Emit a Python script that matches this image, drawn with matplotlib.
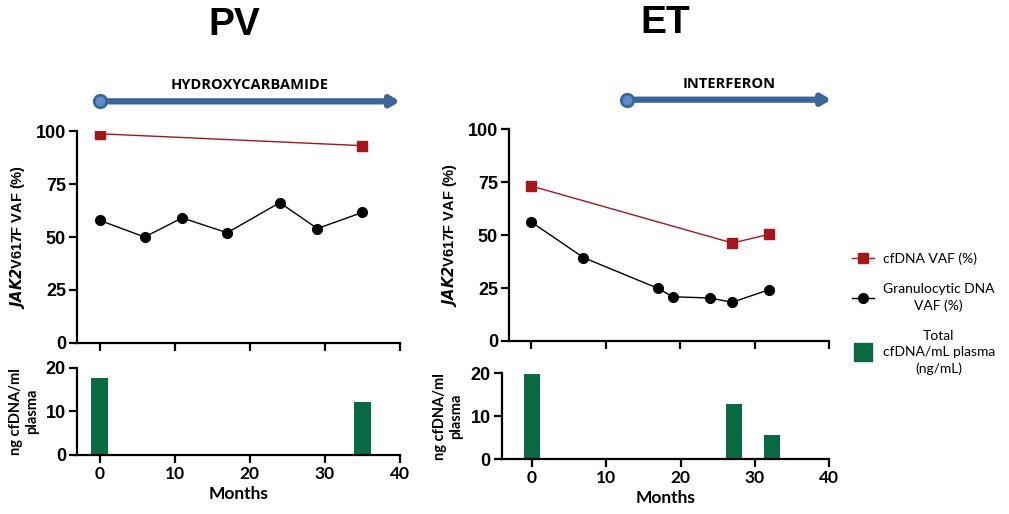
import matplotlib
matplotlib.use('Agg')
import matplotlib.pyplot as plt
from matplotlib.lines import Line2D

# PV patient
pv_gran_months = [0, 6, 11, 17, 24, 29, 35]
pv_gran_vaf = [57.9, 50.0, 59.0, 52.0, 66.2, 54.0, 61.6]
pv_cf_months = [0, 35]
pv_cf_vaf = [98.7, 93.1]
pv_bar_months = [0, 35]
pv_bar_conc = [17.6, 12.1]

# ET patient
et_gran_months = [0, 7, 17, 19, 24, 27, 32]
et_gran_vaf = [56.2, 39.4, 24.9, 20.9, 20.3, 18.3, 24.3]
et_cf_months = [0, 27, 32]
et_cf_vaf = [73.2, 46.3, 50.4]
et_bar_months = [0, 27.2, 32.3]
et_bar_conc = [19.8, 12.8, 5.5]

# treatment arrows (name, start month, end month)
pv_treat = ('HYDROXYCARBAMIDE', 0, 40)
et_treat = ('INTERFERON', 12.8, 40.3)

red = '#a3171a'
green = '#0a6a43'
blue = '#3b6698'
arial = ['Liberation Sans', 'DejaVu Sans']
calib = ['Lato', 'DejaVu Sans']

fig = plt.figure(figsize=(10.09, 5.14), dpi=100)


def style_axis(ax, ylim, yticks):
    for s in ['top', 'right']:
        ax.spines[s].set_visible(False)
    for s in ['left', 'bottom']:
        ax.spines[s].set_linewidth(1.6)
    ax.tick_params(width=1.6, length=6, direction='out', pad=2)
    ax.set_ylim(*ylim)
    ax.set_yticks(yticks)
    for lab in ax.get_yticklabels():
        lab.set_fontfamily(arial)
        lab.set_fontweight('bold')
        lab.set_fontsize(13)


def panel(rect_top, rect_bot, xmin_bot, title, treat, gm, gv, cm, cv, bm, bc):
    ax = fig.add_axes(rect_top)
    ax.plot(cm, cv, color=red, lw=1, marker='s', ms=7, zorder=3)
    ax.plot(gm, gv, color='black', lw=1, marker='o', ms=7, zorder=3)
    ax.set_xlim(-3, 40)
    ax.set_xticks([0, 10, 20, 30, 40])
    ax.set_xticklabels([])
    style_axis(ax, (0, 100), [0, 25, 50, 75, 100])
    ax.set_ylabel('$\\mathbfit{JAK2}$V617F VAF (%)', fontfamily=arial,
                  fontweight='bold', fontsize=10.5, labelpad=6)

    # treatment arrow
    name, t0, t1 = treat
    ax.annotate('', xy=(t1, 1.14), xytext=(t0, 1.14),
                xycoords=('data', 'axes fraction'),
                arrowprops=dict(arrowstyle='-|>,head_length=0.5,head_width=0.3',
                                color=blue, lw=4.5, shrinkA=0, shrinkB=0),
                annotation_clip=False)
    ax.plot([t0], [1.14], marker='o', ms=9, mfc='#5b8ccc', mec=blue, mew=2,
            transform=ax.get_xaxis_transform(), clip_on=False, zorder=4)
    ax.text((t0 + t1) / 2, 1.215, name, transform=ax.get_xaxis_transform(),
            ha='center', va='center', fontsize=10.5, fontweight='bold',
            fontfamily=['Open Sans', 'DejaVu Sans'])
    ax.text(18, 1.5, title, transform=ax.get_xaxis_transform(), ha='center',
            va='center', fontsize=28, fontweight='bold', fontfamily=arial)

    bx = fig.add_axes(rect_bot)
    bx.bar(bm, bc, width=2.2, color=green)
    bx.set_xlim(xmin_bot, 40)
    bx.set_xticks([0, 10, 20, 30, 40])
    style_axis(bx, (0, 20), [0, 10, 20])
    for lab in bx.get_xticklabels():
        lab.set_fontfamily(calib)
        lab.set_fontweight('bold')
        lab.set_fontsize(12.5)
    bx.set_xlabel('Months', fontfamily=calib, fontweight='bold', fontsize=12.5,
                  labelpad=3)
    bx.set_ylabel('ng cfDNA/ml\nplasma', fontfamily=calib, fontweight='bold',
                  fontsize=10.5, labelpad=5)
    return ax, bx


panel([0.0763, 0.3327, 0.3201, 0.4124], [0.0763, 0.1148, 0.3201, 0.1698], -3,
      'PV', pv_treat, pv_gran_months, pv_gran_vaf, pv_cf_months, pv_cf_vaf,
      pv_bar_months, pv_bar_conc)
panel([0.5045, 0.3366, 0.3171, 0.4118], [0.4972, 0.1070, 0.3244, 0.1667], -4.1,
      'ET', et_treat, et_gran_months, et_gran_vaf, et_cf_months, et_cf_vaf,
      et_bar_months, et_bar_conc)

handles = [Line2D([], [], color=red, lw=1, marker='s', ms=7),
           Line2D([], [], color='black', lw=1, marker='o', ms=7),
           Line2D([], [], color=green, lw=0, marker='s', ms=13)]
labels = ['cfDNA VAF (%)', 'Granulocytic DNA\nVAF (%)', 'Total\ncfDNA/mL plasma\n(ng/mL)']
leg = fig.legend(handles, labels, loc='center left', bbox_to_anchor=(0.832, 0.39),
                 frameon=False, prop={'family': calib, 'size': 10},
                 labelspacing=1.3, handlelength=1.6, handletextpad=0.6)
for t in leg.get_texts():
    t.set_multialignment('center')
    t.set_linespacing(1.4)

fig.savefig('out.png', dpi=100)
